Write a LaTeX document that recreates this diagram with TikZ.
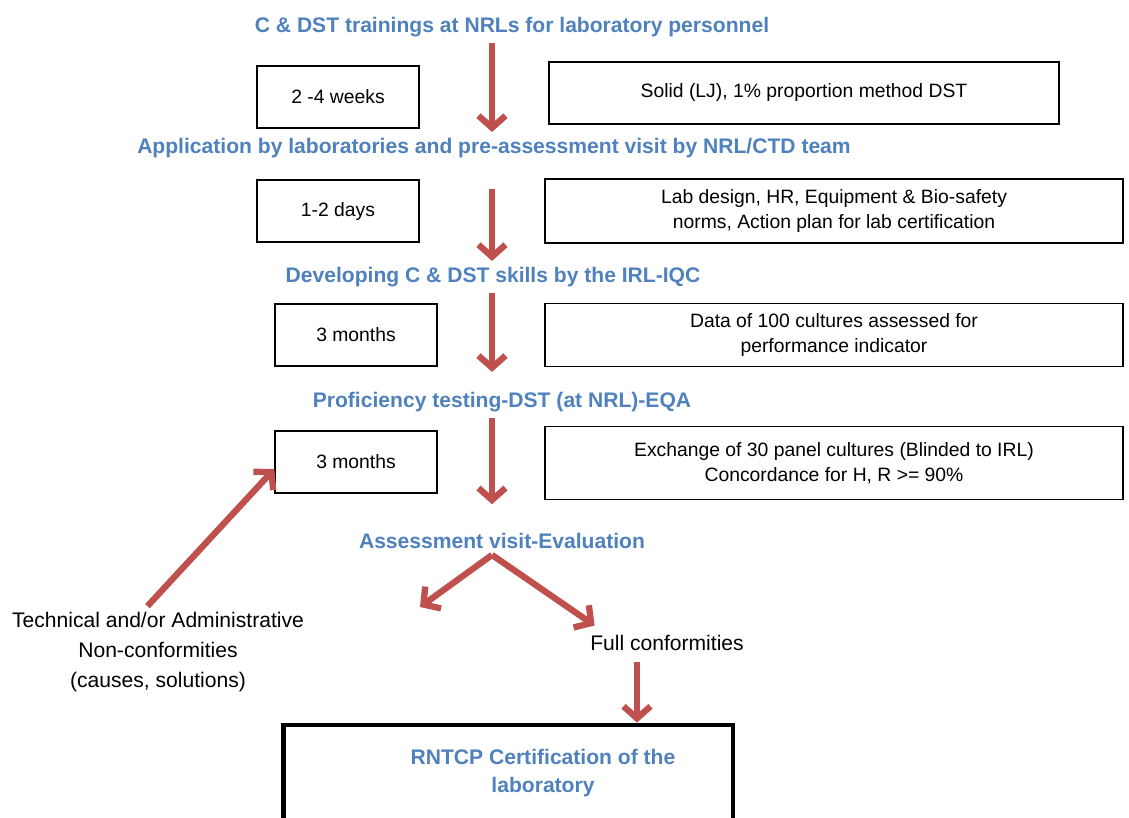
\documentclass[tikz,border=0pt]{standalone}
\usepackage{fontspec}
\setmainfont{Liberation Sans}
\usetikzlibrary{positioning,arrows.meta}
\usepackage{xcolor}
\definecolor{headblue}{RGB}{79,129,189}
\definecolor{arrred}{RGB}{192,80,77}

\begin{document}
\begin{tikzpicture}[
      x=0.02cm, y=-0.02cm,
      head/.style={font=\bfseries\fontsize{12}{16}\selectfont, text=headblue, align=center},
      box/.style={draw, line width=0.8pt, align=center, inner sep=0pt, font=\fontsize{11}{14.2}\selectfont},
      small/.style={box, minimum width=3.24cm, minimum height=1.24cm},
      wide/.style={box, minimum width=11.56cm, minimum height=1.26cm},
      note/.style={align=center, font=\fontsize{12}{17}\selectfont},
      arr/.style={draw=arrred, line width=3.6pt, -{Straight Barb[length=2.4mm, width=5.4mm]}},
    ]
    \useasboundingbox (0,0) rectangle (1129,818);
    \coordinate (spine) at (492,0);
    \coordinate (spine2) at (637,0);
    % headings
    \node[head] (h1) at (512,27)  {C \& DST trainings at NRLs for laboratory personnel};
    \node[head] (h2) at (494,148) {Application by laboratories and pre-assessment visit by NRL/CTD team};
    \node[head] (h3) at (493,277) {Developing C \& DST skills by the IRL-IQC};
    \node[head] (h4) at (502,402) {Proficiency testing-DST (at NRL)-EQA};
    \node[head] (h5) at (502,541) {Assessment visit-Evaluation};
    % boxes
    \node[small] (wk1) at (338,97)  {2 -4 weeks};
    \node[box, minimum width=10.2cm, minimum height=1.24cm] (d1) at (804,93) {Solid (LJ), 1\% proportion method DST};
    \node[small] (wk2) at (338,211) {1-2 days};
    \node[wide, minimum height=1.28cm] (d2) at (834,211) {Lab design, HR, Equipment \& Bio-safety\\norms, Action plan for lab certification};
    \node[small] (wk3) at (356,335) {3 months};
    \node[wide] (d3) at (834,335) {Data of 100 cultures assessed for\\performance indicator};
    \node[small] (wk4) at (356,462) {3 months};
    \node[wide, minimum height=1.46cm] (d4) at (834,463) {Exchange of 30 panel cultures (Blinded to IRL)\\Concordance for H, R >= 90\%};
    % outcomes
    \node[note] (nc) at (158,652) {Technical and/or Administrative\\Non-conformities\\(causes, solutions)};
    \node[note] (full) at (667,643) {Full conformities};
    \coordinate (ncend) at (420,607);
    \node[draw, line width=2.8pt, minimum width=9cm, minimum height=2.4cm] (cert) at (508,785) {};
    \node[head] (certtxt) at (543,773) {RNTCP Certification of the\\laboratory};
    % arrows
    \draw[arr] (h1.south -| spine) -- (h2.north -| spine);
    \draw[arr, shorten <=14pt] (h2.south -| spine) -- (h3.north -| spine);
    \draw[arr, shorten >=8pt] (h3.south -| spine) -- (h4.north -| spine);
    \draw[arr, shorten >=13pt] (h4.south -| spine) -- (h5.north -| spine);
    \draw[arr] (h5.south -| spine) -- (ncend);
    \draw[arr] (h5.south -| spine) -- ([xshift=6pt,yshift=2pt]full.north west);
    \draw[arr] ([xshift=-6pt]nc.north) -- ([yshift=-4pt]wk4.west);
    \draw[arr, shorten <=3pt] (full.south -| spine2) -- (cert.north -| spine2);
  \end{tikzpicture}
\end{document}
